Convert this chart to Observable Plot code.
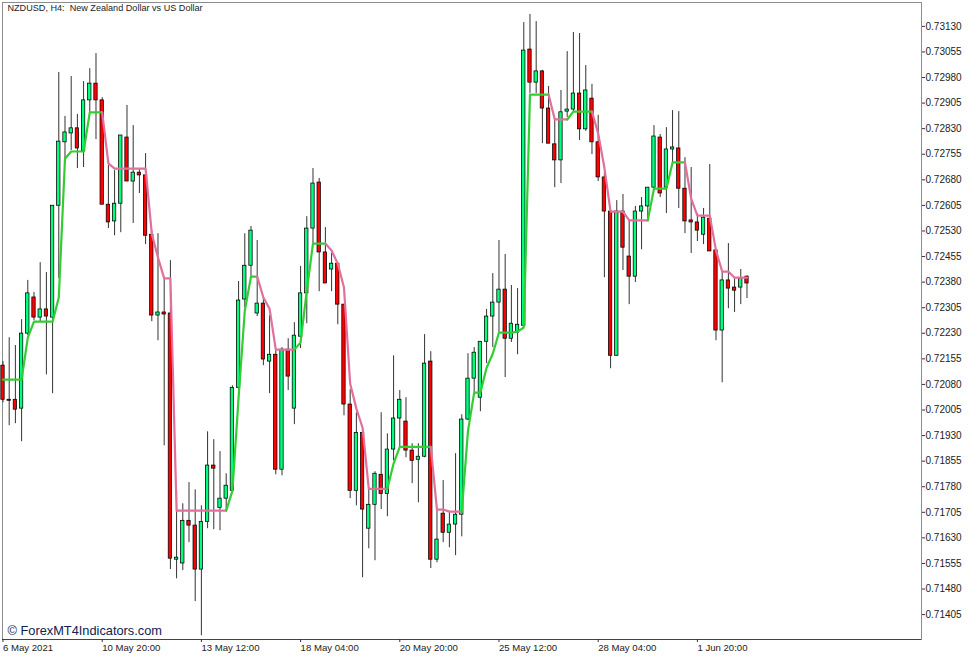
<!DOCTYPE html>
<html>
<head>
<meta charset="utf-8">
<script src="https://cdn.jsdelivr.net/npm/d3@7"></script>
<script src="https://cdn.jsdelivr.net/npm/@observablehq/plot@0.6"></script>
<style>html,body{margin:0;padding:0;background:#fff}svg{display:block}</style>
</head>
<body>
<div id="chart"></div>
<script>
// Prices in points (price x 100000), one entry per H4 bar
const open = [72135,72035,72035,72009,72229,72335,72276,72300,72276,72604,72790,72816,72831,72763,72913,72962,72913,72607,72558,72610,72804,72675,72701,72693,72519,72282,72291,72288,71566,71555,71680,71666,71537,71677,71842,71718,71745,71768,72070,72329,72428,72288,72317,72147,72167,71830,72182,72009,72220,72347,72537,72672,72467,72417,72434,72314,72021,71768,71938,71657,71727,71815,71759,71889,71980,71971,71886,71859,71868,72147,71566,71701,71645,71669,71698,71977,72097,72041,72205,72279,72320,72358,72214,72232,72252,73062,72965,72998,72889,72784,72737,72880,72886,72933,72828,72918,72790,72687,72587,72164,72587,72455,72396,72587,72602,72657,72804,72657,72769,72772,72654,72561,72555,72519,72566,72473,72238,72385,72364,72364,72396];
const high = [72147,72217,72194,72270,72385,72350,72437,72408,72604,72995,72866,72983,72872,72968,73006,73050,72921,72722,72707,72810,72898,72839,72713,72757,72531,72522,72391,72443,71768,71730,71792,71771,71724,71941,71918,71883,71818,72076,72382,72522,72543,72502,72338,72282,72182,72188,72214,72261,72426,72572,72713,72684,72540,72464,72434,72314,72065,71997,71938,71777,71824,71997,71935,72164,72062,72041,71906,71906,72226,72176,71710,71798,71704,71877,71991,72170,72188,72205,72300,72405,72502,72461,72370,72361,73141,73165,73144,73001,72954,72860,72942,73056,73112,73109,73015,72960,72869,72701,72587,72619,72637,72561,72602,72628,72657,72839,72813,72833,72883,72880,72745,72716,72581,72596,72725,72473,72411,72493,72391,72417,72399];
const low = [72026,71959,71965,71912,72223,72267,72261,72108,72053,72391,72742,72766,72713,72716,72878,72798,72607,72537,72516,72525,72675,72552,72640,72490,72264,72208,71900,71537,71510,71534,71616,71443,71343,71657,71654,71651,71710,71768,72041,72305,72396,72279,72135,72053,71815,71812,72062,71962,72185,72258,72493,72352,72376,72352,72255,71988,71745,71724,71513,71598,71563,71713,71692,71856,71894,71865,71789,71733,71865,71540,71557,71616,71601,71578,71633,71974,72056,72000,72141,72188,72232,72100,72203,72167,72252,72933,72933,72786,72786,72657,72669,72863,72878,72795,72822,72754,72675,72393,72126,72164,72414,72314,72379,72475,72561,72654,72628,72581,72728,72596,72522,72464,72499,72490,72470,72208,72085,72302,72291,72314,72332];
const close = [72035,72032,72006,72229,72347,72276,72300,72279,72604,72792,72819,72831,72772,72913,72962,72913,72607,72555,72610,72810,72675,72701,72693,72516,72282,72291,72285,71569,71572,71680,71666,71537,71677,71842,71833,71745,71783,72070,72326,72428,72531,72317,72153,72167,71830,72182,72103,72223,72347,72537,72669,72467,72376,72434,72314,72021,71768,71938,71713,71727,71818,71759,71889,71980,72035,71886,71856,71868,72141,71566,71625,71645,71669,71698,71977,72097,72173,72205,72279,72320,72358,72214,72258,72255,73059,72965,72998,72889,72786,72737,72878,72886,72933,72828,72942,72790,72687,72587,72164,72587,72481,72396,72587,72602,72657,72807,72640,72769,72775,72654,72558,72555,72531,72569,72470,72238,72385,72361,72355,72391,72376];
// Indicator value per bar
const indicator = [72094,72094,72094,72094,72217,72264,72264,72264,72264,72335,72742,72763,72763,72763,72878,72878,72878,72728,72713,72713,72713,72713,72713,72713,72522,72452,72391,72391,71710,71710,71710,71710,71710,71710,71710,71710,71710,71768,72041,72296,72396,72396,72335,72302,72182,72182,72182,72182,72203,72355,72493,72493,72493,72473,72434,72364,72082,72009,71953,71774,71774,71774,71774,71848,71897,71897,71897,71897,71897,71897,71713,71713,71707,71707,71707,71944,72056,72056,72129,72170,72232,72232,72232,72235,72247,72930,72930,72930,72930,72857,72857,72857,72880,72880,72880,72880,72816,72716,72587,72587,72587,72561,72561,72561,72561,72654,72654,72654,72731,72731,72731,72625,72575,72575,72575,72473,72411,72411,72393,72393,72393];
// Bars where the indicator changes colour; the first run is rising
const trendBreaks = [0,16,36,41,47,52,62,69,74,88,91,95,104,110,120];
const timeLabels = ["6 May 2021","10 May 20:00","13 May 12:00","18 May 04:00","20 May 20:00","25 May 12:00","28 May 04:00","1 Jun 20:00"];
const timeTicks = [0,16,32,48,64,80,96,112];
const priceTicks = [71405,71480,71555,71630,71705,71780,71855,71930,72005,72080,72155,72230,72305,72380,72455,72530,72605,72680,72755,72830,72905,72980,73055,73130];

const bars = open.map((o, i) => ({
  i, open: o / 1e5, high: high[i] / 1e5, low: low[i] / 1e5, close: close[i] / 1e5,
  up: close[i] >= o
}));
const runs = [];
for (let r = 0; r + 1 < trendBreaks.length; r++) {
  for (let i = trendBreaks[r]; i <= trendBreaks[r + 1]; i++) {
    runs.push({i, v: indicator[i] / 1e5, run: r, rising: r % 2 === 0});
  }
}

const font = "'Liberation Sans', Arial, sans-serif";
const chart = Plot.plot({
  width: 977, height: 658,
  marginLeft: 2, marginRight: 56, marginTop: 2, marginBottom: 19,
  style: {fontFamily: font, fontSize: "9.6px", background: "#fff", color: "#222"},
  x: {domain: [-0.08, 148.15]},
  y: {domain: [0.71332, 0.73200]},
  marks: [
    Plot.frame({stroke: "#8c8c8c", strokeWidth: 1}),
    Plot.ruleY([0.71332], {stroke: "#444"}),
    Plot.axisX({
      ticks: timeTicks, tickFormat: (d) => timeLabels[timeTicks.indexOf(d)],
      tickSize: 3, tickPadding: 2, textAnchor: "start", label: null, stroke: "#333", fill: "#222"
    }),
    Plot.axisY({
      anchor: "right", ticks: priceTicks.map(d => d / 1e5), tickFormat: ".5f",
      tickSize: 3, tickPadding: 1, label: null, stroke: "#333", fill: "#222", fontSize: 10
    }),
    Plot.ruleX(bars, {x: "i", y1: "low", y2: "high", stroke: "#333", strokeWidth: 1}),
    Plot.rect(bars, {
      x1: d => d.i - 0.27, x2: d => d.i + 0.27,
      y1: "open", y2: "close",
      fill: d => d.up ? "#00ff7f" : "#ff0000", stroke: "#000", strokeWidth: 0.75
    }),
    Plot.line(runs, {
      x: "i", y: "v", z: "run",
      stroke: d => d.rising ? "#32cd32" : "#e0709c",
      strokeWidth: 2.2, curve: "linear"
    }),
    Plot.text(["NZDUSD, H4:  New Zealand Dollar vs US Dollar"], {
      frameAnchor: "top-left", dx: 5, dy: 2, fontSize: 9.1, fill: "#222", textAnchor: "start", lineAnchor: "top"
    }),
    Plot.text(["© ForexMT4Indicators.com"], {
      frameAnchor: "bottom-left", dx: 5, dy: -5, fontSize: 12.8, fill: "#0d2350", textAnchor: "start", lineAnchor: "bottom"
    })
  ]
});
document.getElementById("chart").appendChild(chart);
</script>
</body>
</html>
